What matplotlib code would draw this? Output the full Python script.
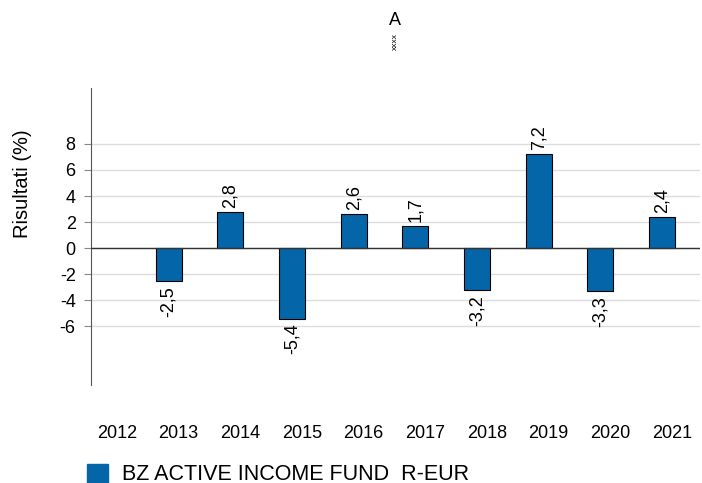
import matplotlib
matplotlib.use("Agg")
import matplotlib.pyplot as plt
import numpy as np

plt.rcParams['font.family'] = ['Liberation Sans', 'DejaVu Sans']

years = [2012, 2013, 2014, 2015, 2016, 2017, 2018, 2019, 2020, 2021]
values = [None, -2.5, 2.8, -5.4, 2.6, 1.7, -3.2, 7.2, -3.3, 2.4]
labels = ["", "-2,5", "2,8", "-5,4", "2,6", "1,7", "-3,2", "7,2", "-3,3", "2,4"]
yticks = [-6, -4, -2, 0, 2, 4, 6, 8]
fund = "BZ ACTIVE INCOME FUND  R-EUR"
bar_color = "#0466A8"

fig = plt.figure(figsize=(7.02, 4.83), dpi=100)
ax = fig.add_axes([0.1296, 0.203, 0.867, 0.615])

x = np.arange(len(years))
bar_x = x - 0.16
for i, v in enumerate(values):
    if v is None:
        continue
    ax.bar(bar_x[i], v, width=0.42, color=bar_color,
           edgecolor="black", linewidth=0.8, zorder=3)
    if v >= 0:
        ax.text(bar_x[i], v + 0.3, labels[i], rotation=90, ha="center", va="bottom", fontsize=13)
    else:
        ax.text(bar_x[i], v - 0.4, labels[i], rotation=90, ha="center", va="top", fontsize=13)

ax.set_xlim(-0.42, len(years) - 1 + 0.45)
ax.set_ylim(-10.5, 12.3)
ax.set_yticks(yticks)
ax.set_yticklabels([str(t) for t in yticks], fontsize=13)
ax.set_xticks(x)
ax.set_xticklabels([str(y) for y in years], fontsize=13)
ax.tick_params(axis="x", length=0, pad=29)
ax.tick_params(axis="y", length=5, width=0.8, color="#888888", pad=6)
ax.grid(axis="y", color="#dddddd", linewidth=1, zorder=0)
ax.axhline(0, color="#333333", linewidth=1, zorder=4)
for s in ["top", "right", "bottom"]:
    ax.spines[s].set_visible(False)
ax.spines["left"].set_color("#555555")
ax.set_ylabel("Risultati (%)", fontsize=14.5)
ax.yaxis.set_label_coords(-0.097, 0.677)

fig.text(0.563, 0.957, "A", ha="center", va="center", fontsize=13)
fig.text(0.563, 0.915, "xxxx", ha="center", va="center", fontsize=6, rotation=90)

# legend
fig.patches.append(plt.Rectangle((87 / 702, 0.0), 21 / 702, 19 / 483,
                                 transform=fig.transFigure, color=bar_color, figure=fig))
fig.text(122 / 702, 9 / 483, fund, ha="left", va="center", fontsize=15.5)

fig.savefig("out.png", dpi=100)
